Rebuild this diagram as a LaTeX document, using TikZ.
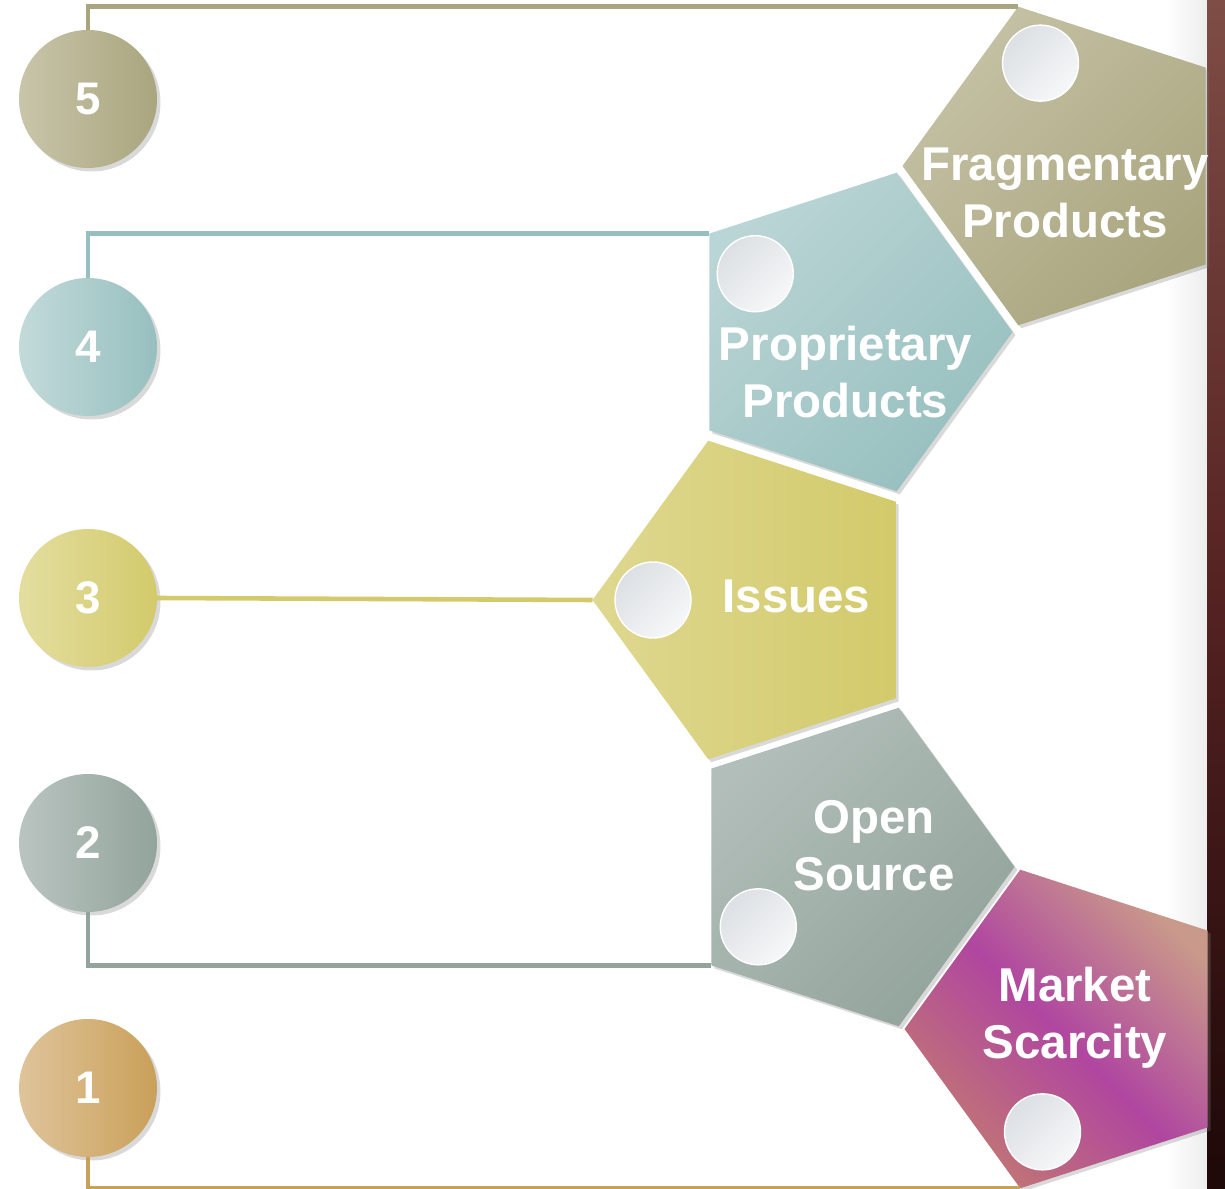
\documentclass[tikz,border=0pt]{standalone}
\usepackage{fontspec}
\setmainfont{Liberation Sans}
\usepackage{tikz}
\usetikzlibrary{shapes.geometric,shadows,calc}

\definecolor{olvL}{HTML}{C8C5AA}
\definecolor{olvD}{HTML}{A9A57E}
\definecolor{tealL}{HTML}{C3DADA}
\definecolor{tealD}{HTML}{97BFBF}
\definecolor{yelL}{HTML}{E3DEA0}
\definecolor{yelD}{HTML}{D3CA6B}
\definecolor{gryL}{HTML}{BAC4C1}
\definecolor{gryD}{HTML}{92A49B}
\definecolor{tanL}{HTML}{DFC49B}
\definecolor{tanD}{HTML}{C9A059}
\definecolor{mkRose}{HTML}{C27872}
\definecolor{mkMag}{HTML}{B046A0}
\definecolor{mkTan}{HTML}{C99A8B}
\definecolor{dotL}{HTML}{DCE0E4}
\definecolor{dotD}{HTML}{F6F7F8}
\definecolor{bandTop}{HTML}{7E4D45}
\definecolor{bandMid}{HTML}{552222}
\definecolor{bandBot}{HTML}{1E0808}

\tikzset{
  numcirc/.style={circle, minimum size=2.76cm, inner sep=0pt, outer sep=0pt,
    text=white, font=\bfseries\fontsize{26}{30}\selectfont,
    drop shadow={opacity=0.3, shadow xshift=0.07cm, shadow yshift=-0.07cm}},
  penta/.style={regular polygon, regular polygon sides=5, minimum size=6.7cm,
    inner sep=0pt, outer sep=0pt,
    drop shadow={opacity=0.3, shadow xshift=0.06cm, shadow yshift=-0.06cm}},
  dot/.style={circle, minimum size=1.52cm, inner sep=0pt, draw=white, line width=0.8pt,
    left color=dotL, right color=dotD, shading angle=45},
  lbl/.style={text=white, align=center, font=\bfseries\fontsize{27}{32.5}\selectfont},
  link/.style={line width=2.6pt},
}

\begin{document}
\begin{tikzpicture}
    \useasboundingbox (0,0) rectangle (24.5,23.78);

    % dark band on the right
    \fill[left color=white, right color=black!7] (23.3,0) rectangle (24.14,23.78);
    \fill[top color=bandTop, bottom color=bandBot, middle color=bandMid] (24.14,0) rectangle (24.5,23.78);

    % left circles
    \node[numcirc, left color=olvL, right color=olvD] (n5) at (1.76,21.80) {5};
    \node[numcirc, left color=tealL, right color=tealD] (n4) at (1.76,16.84) {4};
    \node[numcirc, left color=yelL, right color=yelD] (n3) at (1.76,11.82) {3};
    \node[numcirc, left color=gryL, right color=gryD] (n2) at (1.76,6.92) {2};
    \node[numcirc, left color=tanL, right color=tanD] (n1) at (1.76,2.02) {1};

    % pentagons
    \node[penta, shape border rotate=90, left color=olvL!90!olvD, right color=olvD, shading angle=45] (frag) at (21.40,20.46) {};
    \node[penta, shape border rotate=-90, left color=tealL!80!tealD, right color=tealD, shading angle=45] (prop) at (16.90,17.14) {};
    \node[penta, shape border rotate=90, left color=yelL!70!yelD, right color=yelD] (iss) at (15.20,11.78) {};
    \node[penta, shape border rotate=-90, left color=gryL!80!gryD, right color=gryD, shading angle=45] (open) at (16.94,6.44) {};
    \node[penta, shape border rotate=90, bottom color=mkRose, top color=mkTan, middle color=mkMag, shading angle=-45] (mkt) at (21.44,3.20) {};

    \node[dot] (fragdot) at ($(frag)+(106:2.14)$) {};
    \node[dot] (propdot) at ($(prop)+(147:2.14)$) {};
    \node[dot] (issdot) at ($(iss)+(180:2.14)$) {};
    \node[dot] (opendot) at ($(open)+(214:2.14)$) {};
    \node[dot] (mktdot) at ($(mkt)+(254:2.14)$) {};

    \node[lbl] (fragtxt) at (21.30,19.92) {Fragmentary\\Products};
    \node[lbl] (proptxt) at (16.91,16.34) {Proprietary\\Products};
    \node[lbl] (isstxt) at (15.93,11.86) {Issues};
    \node[lbl] (opentxt) at (17.48,6.86) {Open\\Source};
    \node[lbl] (mkttxt) at (21.50,3.42) {Market\\Scarcity};

    % links
    \draw[link, olvD] (n5.north) |- (frag.corner 5);
    \draw[link, tealD] (n4.north) |- (prop.corner 3);
    \draw[link, yelD] (n3.east) -- (iss.corner 1);
    \draw[link, gryD] (n2.south) |- (open.corner 4);
    \draw[link, tanD] (n1.south) |- (mkt.corner 2);
\end{tikzpicture}
\end{document}
